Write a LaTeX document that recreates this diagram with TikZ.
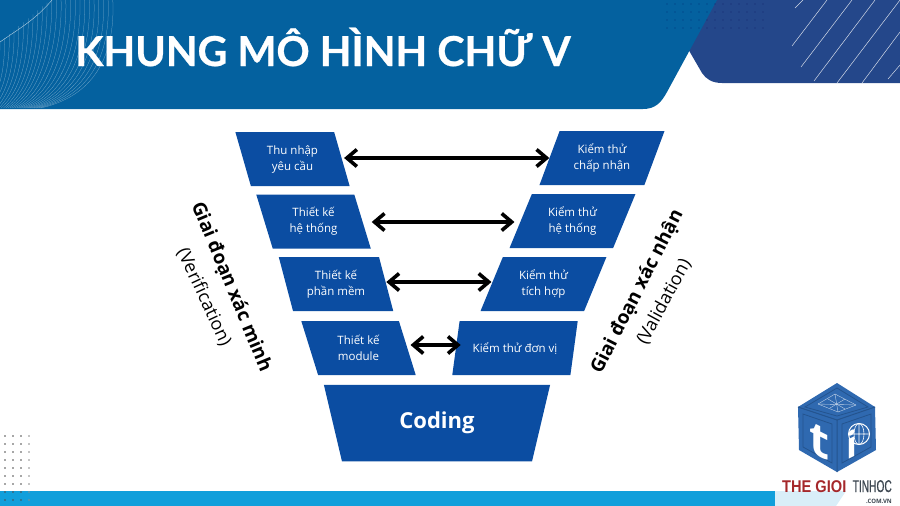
\documentclass[tikz,border=0pt]{standalone}
\usepackage{fontspec}
\setmainfont{Open Sans}
\newfontfamily\titlefont[FakeBold=0.7]{Lato}
\newfontfamily\logoredfont[FakeStretch=0.86]{Liberation Sans}
\newfontfamily\logograyfont[FakeStretch=0.6,FakeBold=0.5]{Liberation Sans}
\usetikzlibrary{arrows.meta, shapes.geometric}
\definecolor{bannerblue}{HTML}{04619F}
\definecolor{darkblue}{HTML}{24478A}
\definecolor{boxblue}{HTML}{0B4DA2}
\definecolor{barblue}{HTML}{119FDB}
\definecolor{paleblue}{HTML}{D9EEF8}
\definecolor{cubeblue}{HTML}{2F69B0}
\definecolor{cubedark}{HTML}{24548F}
\definecolor{logored}{HTML}{A5282B}
\definecolor{logogray}{HTML}{3C4650}
\tikzset{
  leftbox/.style = {trapezium, trapezium stretches=true, trapezium left angle=109,
    trapezium right angle=71, fill=boxblue, text=white, inner sep=0pt,
    minimum width=115pt, minimum height=54pt, align=center, font=\fontsize{11.5}{16}\selectfont},
  rightbox/.style = {leftbox, trapezium left angle=65, trapezium right angle=115,
    minimum width=126pt},
  biarrow/.style = {{Straight Barb[length=10pt,width=17pt,line width=3.6pt]}-{Straight Barb[length=10pt,width=17pt,line width=3.6pt]},
    line width=3.8pt, black},
  boldlabel/.style = {font=\fontsize{19}{22}\bfseries\selectfont, text=black},
  thinlabel/.style = {font=\fontsize{18}{20}\selectfont, text=black},
  waveline/.style = {white, line width=0.25pt, opacity=0.45}
}

\begin{document}
\begin{tikzpicture}[x=1pt, y=-1pt]
\useasboundingbox (0,0) rectangle (900,506);

% nen tren
\fill[darkblue] (680,0) -- (900,0) -- (900,83) -- (722,83) .. controls (712,83) and (706,79) .. (702,73) -- (680,35) -- cycle;
\foreach \a/\b/\c/\d in {795/8/803/0, 792/46/827/0, 801/67/852/0, 814/81/875/0, 837/83/900/0, 862/83/900/32, 888/79/900/65}
  \draw[white, line width=0.5pt, opacity=0.8] (\a,\b) -- (\c,\d);
\fill[bannerblue] (0,0) -- (717,0) -- (667,92) .. controls (661,103) and (655,109) .. (643,109) -- (0,109) -- cycle;
\foreach \x in {667,675,...,765}
  \foreach \y in {4,12,20,28}
    \fill[black!70!blue, opacity=0.45] (\x,\y) circle (0.7pt);

% duong song
\begin{scope}
\clip (0,0) rectangle (130,109);
\foreach \i in {0,...,24} {
  \pgfmathsetmacro{\sx}{4.7*\i}
  \pgfmathsetmacro{\sy}{max(0,42-0.84*\sx)}
  \pgfmathsetmacro{\ex}{-12+2.2*\i}
  \draw[waveline] (\sx,\sy) .. controls (\sx+0.1*\i,\sy+50) and (\ex+2.4*\i,95) .. (\ex,108);
}
\draw[white, line width=0.4pt, opacity=0.7] (0,42) .. controls (20,28) and (35,20) .. (52,0);
\end{scope}
\node[anchor=base west, inner sep=0pt, text=white, font=\titlefont\fontsize{41.2}{44}\bfseries\selectfont] (T) at (75,66) {KHUNG MÔ HÌNH CHỮ V};

% nen duoi
\fill[paleblue] (770,491) -- (846,491) -- (836,506) -- (770,506) -- cycle;
\fill[barblue] (0,491) rectangle (775,506);
\foreach \x/\o in {5/70,13/70,21/70,29/45}
  \foreach \y in {436,444,...,500}
    \fill[black!\o] (\x,\y) circle (0.8pt);

% cac khoi
\node[leftbox] (V1) at (292.5,159) {Thu nhập\\yêu cầu};
\node[leftbox] (V2) at (313.5,221.5) {Thiết kế\\hệ thống};
\node[leftbox] (V3) at (336,284) {Thiết kế\\phần mềm};
\node[leftbox] (V4) at (358.5,348) {Thiết kế\\module};
\node[rightbox] (N1) at (602,158) {Kiểm thử\\chấp nhận};
\node[rightbox] (N2) at (572.5,221) {Kiểm thử\\hệ thống};
\node[rightbox] (N3) at (543.5,284) {Kiểm thử\\tích hợp};
\node[rightbox] (N4) at (515,348) {Kiểm thử đơn vị};
\node[trapezium, trapezium stretches=true, trapezium left angle=72, trapezium right angle=72,
  fill=boxblue, text=white, inner sep=0pt, shape border rotate=180, minimum width=228pt, minimum height=76.5pt,
  font=\fontsize{22}{24}\bfseries\selectfont] (C) at (437,423) {Coding};

% mui ten
\draw[biarrow, shorten <=2pt, shorten >=0pt] ([yshift=1pt]V1.east) -- ([yshift=0pt]N1.west);
\draw[biarrow, shorten <=9pt, shorten >=6pt] ([yshift=-0.5pt]V2.east) -- ([yshift=-1pt]N2.west);
\draw[biarrow, shorten <=0pt, shorten >=0pt] ([yshift=2pt]V3.east) -- ([yshift=2pt]N3.west);
\draw[biarrow, shorten <=3pt, shorten >=-5pt] ([yshift=3pt]V4.east) -- ([yshift=3pt]N4.west);

% nhan hai ben
\node[boldlabel, rotate=-67.5] (LB) at (231,287) {Giai đoạn xác minh};
\node[thinlabel, rotate=-65] (LT) at (204,297) {(Verification)};
\node[boldlabel, rotate=63] (RB) at (637.5,292) {Giai đoạn xác nhận};
\node[thinlabel, rotate=61.5] (RT) at (664,302) {(Validation)};

% logo
\fill[cubeblue] (837,383) -- (875,407) -- (876,450) -- (837,472) -- (799,450) -- (798,407) -- cycle;
\draw[cubedark, line width=1pt] (837,420) -- (837,472) (837,420) -- (798,407) (837,420) -- (875,407);
\draw[cubedark, line width=0.8pt] (837,388) -- (868,407) -- (837,416) -- (805,407) -- cycle;
\draw[cubedark, line width=0.8pt] (803,414) -- (832,424) -- (832,463) -- (803,447) -- cycle;
\draw[cubedark, line width=0.8pt] (871,414) -- (842,424) -- (842,463) -- (871,447) -- cycle;
\foreach \a/\b/\c/\d in {818/404/835/394, 835/394/856/405, 818/404/838/412, 838/412/856/405, 828/399/845/409, 845/399/830/408, 835/394/838/412, 818/404/856/405}
  \draw[white, line width=0.35pt, opacity=0.75] (\a,\b) -- (\c,\d);
\node[text=white, font=\fontsize{46}{48}\bfseries\selectfont, yslant=-0.5, transform shape, inner sep=0pt] (LT1) at (819,441) {t};
\draw[white, line width=1pt] (859,434) circle (10.5pt);
\draw[white, line width=0.6pt] (859,423.5) -- (859,444.5) (848.5,434) -- (869.5,434) (859,434) ellipse (5pt and 10.5pt);
\node[text=white, font=\fontsize{36}{38}\bfseries\selectfont, yslant=0.5, transform shape, inner sep=0pt] (LT2) at (852,444) {i};
\node[anchor=base west, inner sep=0pt, text=logored, font=\logoredfont\fontsize{17}{18}\bfseries\selectfont] (L1) at (782,492) {THE GIOI};
\node[anchor=base east, inner sep=0pt, text=logogray, font=\logograyfont\fontsize{17}{18}\selectfont] (L2) at (892,492) {TINHOC};
\node[anchor=base east, inner sep=0pt, text=logogray, font=\fontsize{6}{7}\bfseries\selectfont] (L3) at (892,503) {.COM.VN};
\end{tikzpicture}
\end{document}
